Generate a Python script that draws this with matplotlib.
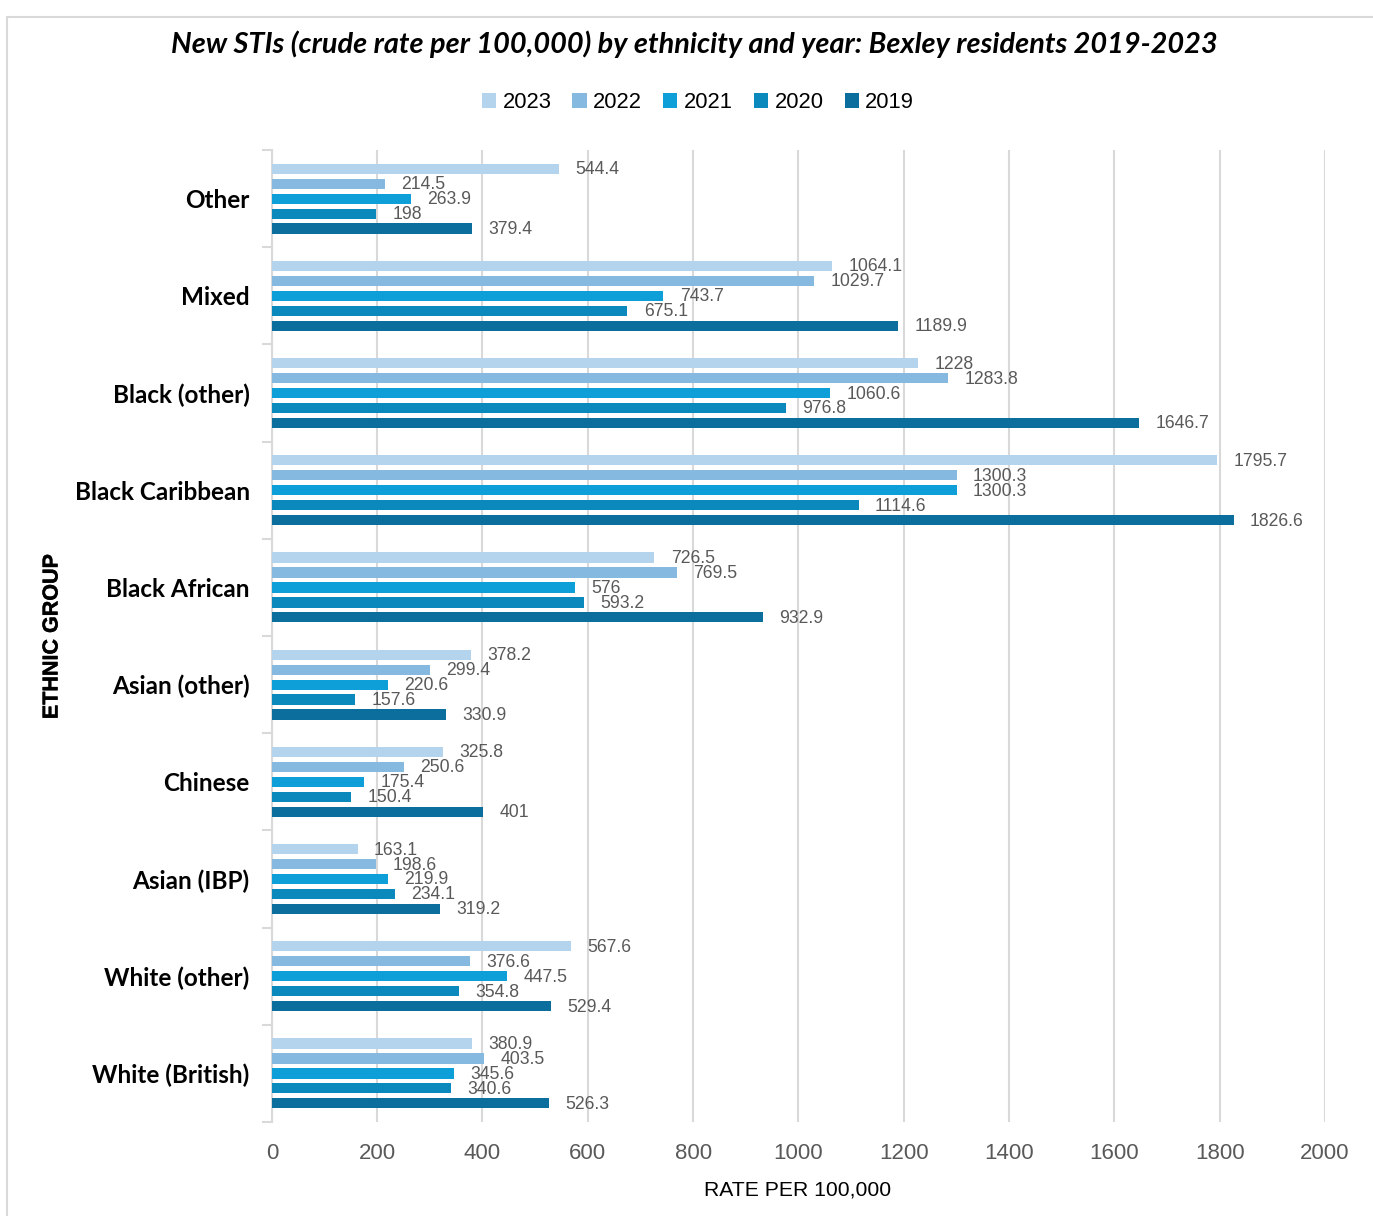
import matplotlib
matplotlib.use("Agg")
import matplotlib.pyplot as plt
import matplotlib.patheffects as pe
import numpy as np
from matplotlib.patches import Rectangle

plt.rcParams['font.family'] = ['Lato', 'DejaVu Sans']
ARIAL = ['Liberation Sans', 'DejaVu Sans']

categories = ["Other", "Mixed", "Black (other)", "Black Caribbean", "Black African",
              "Asian (other)", "Chinese", "Asian (IBP)", "White (other)", "White (British)"]
years = ["2023", "2022", "2021", "2020", "2019"]
v2023 = [544.4, 1064.1, 1228, 1795.7, 726.5, 378.2, 325.8, 163.1, 567.6, 380.9]
v2022 = [214.5, 1029.7, 1283.8, 1300.3, 769.5, 299.4, 250.6, 198.6, 376.6, 403.5]
v2021 = [263.9, 743.7, 1060.6, 1300.3, 576, 220.6, 175.4, 219.9, 447.5, 345.6]
v2020 = [198, 675.1, 976.8, 1114.6, 593.2, 157.6, 150.4, 234.1, 354.8, 340.6]
v2019 = [379.4, 1189.9, 1646.7, 1826.6, 932.9, 330.9, 401, 319.2, 529.4, 526.3]
series = [v2023, v2022, v2021, v2020, v2019]
colors = ["#B4D3EC", "#85B9E0", "#0F9FD8", "#0B88BC", "#0B6E9C"]

fig = plt.figure(figsize=(13.73, 12.16), dpi=100)
ax = fig.add_axes([0.198, 0.0773, 0.767, 0.7993])

n = len(categories)
step = 0.154
h = 0.105
y_centers = np.arange(n)
for i, (vals, col, yr) in enumerate(zip(series, colors, years)):
    ys = y_centers + (i - 2) * step
    ax.barh(ys, vals, height=h, color=col, label=yr, zorder=3)
    for y, v in zip(ys, vals):
        ax.text(v + 31, y + 0.01, f"{v:g}", va="center", ha="left",
                fontsize=12.7, color="#595959", zorder=4, family=ARIAL)

ax.set_ylim(n - 0.5, -0.5)
ax.set_xlim(0, 2000)
ax.set_xticks(np.arange(0, 2001, 200))
ax.tick_params(axis='x', length=0, labelsize=16, labelcolor="#595959", pad=15)
for lab in ax.get_xticklabels():
    lab.set_family(ARIAL)
ax.xaxis.grid(True, color="#D9D9D9", linewidth=1.5, zorder=0)
ax.set_axisbelow(True)

ax.set_yticks(y_centers)
ax.set_yticklabels(categories, fontsize=17.5, fontweight="bold", color="black")
ax.tick_params(axis='y', length=0, pad=16)
ax.set_yticks(np.arange(-0.5, n, 1.0), minor=True)
ax.tick_params(axis='y', which='minor', length=7, width=1.5, color="#D9D9D9")

for s in ["top", "right", "bottom"]:
    ax.spines[s].set_visible(False)
ax.spines["left"].set_color("#D9D9D9")
ax.spines["left"].set_linewidth(1.5)

fig.text(798 / 1373, 1 - 1190 / 1216, "RATE PER 100,000", ha="center", va="center",
         fontsize=15.2, color="black", family=ARIAL)
fig.text(52 / 1373, 1 - 637 / 1216, "ETHNIC GROUP", ha="center", va="center",
         rotation=90, fontsize=15.5, fontweight="bold", color="black", family=ARIAL,
         path_effects=[pe.withStroke(linewidth=0.3, foreground="black")])

fig.text(694 / 1373, 1 - 44 / 1216,
         "New STIs (crude rate per 100,000) by ethnicity and year: Bexley residents 2019-2023",
         ha="center", va="center", fontsize=20.8, fontweight="bold", style="italic")

leg = fig.legend(loc="center", bbox_to_anchor=(698 / 1373, 1 - 103 / 1216), ncol=5, frameon=False,
                 prop={'family': ARIAL, 'size': 15.8}, handlelength=0.65, handleheight=0.65,
                 handletextpad=0.3, columnspacing=0.95)

fig.patches.append(Rectangle((0.005, -0.01), 1.1, 0.996, transform=fig.transFigure,
                             fill=False, edgecolor="#D9D9D9", linewidth=1.5))

fig.savefig("out.png", dpi=100)
